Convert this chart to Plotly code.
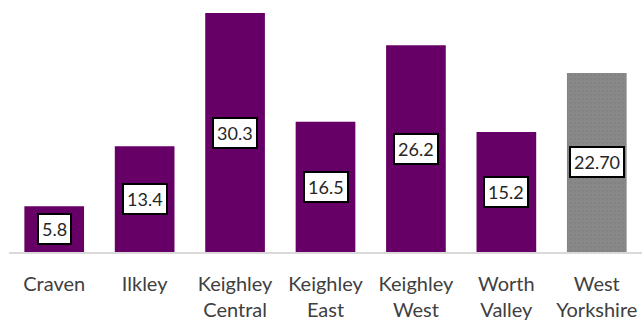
import plotly.graph_objects as go

areas = ["Craven", "Ilkley", "Keighley<br>Central", "Keighley<br>East",
         "Keighley<br>West", "Worth<br>Valley", "West<br>Yorkshire"]
values = [5.8, 13.4, 30.3, 16.5, 26.2, 15.2, 22.7]
labels = ["5.8", "13.4", "30.3", "16.5", "26.2", "15.2", "22.70"]

purple = "#660066"
grey = "#888888"

fig = go.Figure()
fig.add_trace(go.Bar(
    x=areas[:-1], y=values[:-1],
    marker=dict(color=purple, line=dict(width=0)),
    hoverinfo="x+y",
))
# West Yorkshire average - grey, lightly dotted
fig.add_trace(go.Bar(
    x=areas[-1:], y=values[-1:],
    marker=dict(color=grey, line=dict(width=0),
                pattern=dict(shape=".", fgcolor="#777777", bgcolor=grey, size=4, solidity=0.2)),
    hoverinfo="x+y",
))

# boxed value labels in the middle of each bar
for a, v, t in zip(areas, values, labels):
    fig.add_annotation(
        x=a, y=v / 2, text=t, showarrow=False,
        font=dict(family="Lato", size=18, color="#262626"),
        bgcolor="white", bordercolor="black", borderwidth=2, borderpad=3,
    )

fig.update_layout(
    width=642, height=320,
    margin=dict(l=9, r=0, t=13, b=68),
    paper_bgcolor="white", plot_bgcolor="white",
    showlegend=False, bargap=0.34,
    font=dict(family="Lato", color="#404040"),
)
fig.update_xaxes(
    categoryorder="array", categoryarray=areas,
    showline=True, linecolor="#d9d9d9", linewidth=1.5,
    showgrid=False, ticks="", ticklabelstandoff=13,
    tickfont=dict(family="Lato", size=20, color="#404040"),
)
fig.update_yaxes(visible=False, range=[0, 30.3], showgrid=False, zeroline=False)

# drop the page's default body margin so the figure sits at the window corner
fig.write_html("out.html", config={"displayModeBar": False},
               post_script="document.body.style.margin='0';")
